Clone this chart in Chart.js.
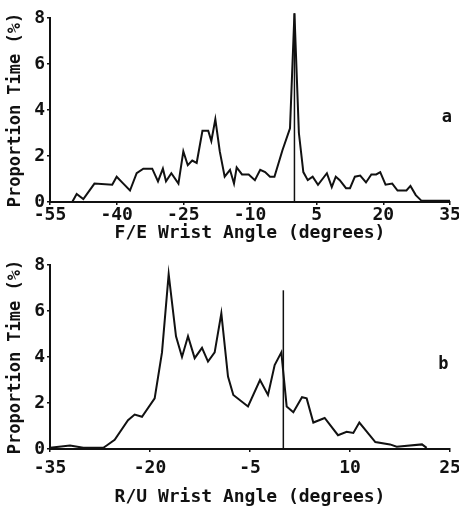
<!DOCTYPE html>
<html>
<head>
<meta charset="utf-8">
<script src="https://cdn.jsdelivr.net/npm/chart.js@4.4.1/dist/chart.umd.min.js"></script>
<style>
  body { margin: 0; background: #fff; }
  .panel { position: relative; width: 459px; height: 255px; }
</style>
</head>
<body>
<div class="panel"><canvas id="chartA"></canvas></div>
<div class="panel"><canvas id="chartB"></canvas></div>
<script>
// panel a: flexion / extension
const feAngles = [-55, -50, -49, -47.5, -45, -41, -40, -38.5, -37, -35.5, -34, -32, -30.7, -29.6, -28.9, -27.7, -26.1, -25, -24, -23, -22, -20.7, -19.4, -18.7, -17.8, -16.8, -15.7, -14.5, -13.6, -13, -11.8, -10.3, -8.9, -7.7, -6.6, -5.5, -4.5, -2.7, -1, 0, 1, 2, 3, 4.1, 5.3, 7.3, 8.4, 9.3, 10.2, 11.6, 12.5, 13.6, 14.8, 16.1, 17.3, 18.4, 19.3, 20.5, 22, 23.2, 25.2, 26.1, 27.3, 28.6, 35];
const feTime = [0, 0, 0.35, 0.13, 0.8, 0.75, 1.1, 0.8, 0.5, 1.25, 1.45, 1.45, 0.9, 1.45, 0.9, 1.25, 0.8, 2.2, 1.6, 1.8, 1.7, 3.1, 3.1, 2.65, 3.6, 2.2, 1.1, 1.4, 0.8, 1.5, 1.2, 1.2, 0.95, 1.4, 1.3, 1.1, 1.1, 2.25, 3.2, 8.2, 3.0, 1.3, 0.95, 1.1, 0.75, 1.25, 0.65, 1.1, 0.95, 0.6, 0.6, 1.1, 1.15, 0.85, 1.2, 1.2, 1.3, 0.75, 0.8, 0.5, 0.5, 0.7, 0.3, 0.05, 0.05];
const feTicks = [-55, -40, -25, -10, 5, 20, 35];
const feMarkerTop = 8.2;

// panel b: radial / ulnar
const ruAngles = [-35, -32, -30, -27, -26.5, -25.3, -23.3, -22.3, -21.2, -19.3, -18.2, -17.2, -16.1, -15.2, -14.3, -13.3, -12.2, -11.3, -10.3, -9.3, -8.3, -7.5, -5.3, -3.5, -2.3, -1.3, -0.3, 0.5, 1.5, 2.8, 3.5, 4.5, 6.2, 8.2, 9.5, 10.5, 11.4, 13.8, 16, 17, 20.8, 21.5];
const ruTime = [0.05, 0.15, 0.05, 0.05, 0.15, 0.4, 1.25, 1.5, 1.4, 2.2, 4.2, 7.6, 4.9, 4.0, 4.9, 3.95, 4.4, 3.8, 4.2, 5.9, 3.15, 2.35, 1.85, 3.0, 2.35, 3.65, 4.2, 1.85, 1.6, 2.25, 2.2, 1.15, 1.35, 0.6, 0.75, 0.7, 1.15, 0.3, 0.2, 0.1, 0.2, 0.05];
const ruTicks = [-35, -20, -5, 10, 25];
const ruMarkerTop = 6.9;

const yTicks = [0, 2, 4, 6, 8];
const FONT = "'DejaVu Sans Mono', monospace";

// letter in the right margin of each panel
const panelLetter = {
  id: 'panelLetter',
  afterDraw(chart, args, opts) {
    const ctx = chart.ctx;
    const x = chart.scales.x.getPixelForValue(opts.x);
    const y = chart.scales.y.getPixelForValue(opts.y);
    ctx.save();
    ctx.font = 'bold 17px ' + FONT;
    ctx.fillStyle = '#111';
    ctx.textAlign = 'center';
    ctx.textBaseline = 'middle';
    ctx.fillText(opts.text, x, y);
    ctx.restore();
  }
};

function makeChart(id, angles, values, ticks, markerTop, xTitle, letter, cfg) {
  const points = angles.map((a, i) => ({ x: a, y: values[i] }));
  new Chart(document.getElementById(id), {
    type: 'line',
    data: {
      datasets: [{
        data: points,
        borderColor: '#111',
        borderWidth: 2,
        pointRadius: 0,
        tension: 0,
        clip: false,
      }, {
        data: [{ x: 0, y: 0 }, { x: 0, y: markerTop }],
        borderColor: '#111',
        borderWidth: 1.5,
        pointRadius: 0,
        clip: false,
      }],
    },
    options: {
      responsive: true,
      maintainAspectRatio: false,
      animation: false,
      layout: { padding: { top: cfg.top, right: 9, left: 0, bottom: 0 } },
      plugins: {
        legend: { display: false },
        tooltip: { enabled: false },
        panelLetter: { text: letter, x: cfg.letterX, y: 3.65 },
      },
      scales: {
        x: {
          type: 'linear',
          min: ticks[0],
          max: ticks[ticks.length - 1],
          afterBuildTicks: (s) => { s.ticks = ticks.map(v => ({ value: v })); },
          afterFit: (s) => { s.height = cfg.xHeight; s.paddingLeft = 0; s.paddingRight = 0; },
          border: { display: true, color: '#111', width: 2 },
          grid: { drawOnChartArea: false, color: '#111', tickLength: 3, lineWidth: 1.5 },
          ticks: { color: '#111', padding: cfg.tickPad, maxRotation: 0, font: { family: FONT, size: 18, weight: 'bold' } },
          title: {
            display: true,
            text: xTitle,
            color: '#111',
            padding: { top: 0, bottom: cfg.titlePad },
            font: { family: FONT, size: 18, weight: 'bold' },
          },
        },
        y: {
          min: 0,
          max: 8,
          afterBuildTicks: (s) => { s.ticks = yTicks.map(v => ({ value: v })); },
          afterFit: (s) => { s.width = 50; s.paddingTop = 0; s.paddingBottom = 0; },
          border: { display: true, color: '#111', width: 2 },
          grid: { drawOnChartArea: false, color: '#111', tickLength: 3, lineWidth: 1.5 },
          ticks: { color: '#111', padding: 2, font: { family: FONT, size: 18, weight: 'bold' } },
          title: {
            display: true,
            text: 'Proportion Time (%)',
            color: '#111',
            padding: { top: 5, bottom: 0 },
            font: { family: FONT, size: 17, weight: 'bold' },
          },
        },
      },
    },
    plugins: [panelLetter],
  });
}

makeChart('chartA', feAngles, feTime, feTicks, feMarkerTop, 'F/E Wrist Angle (degrees)', 'a',
  { top: 18, xHeight: 53, tickPad: 0, titlePad: 11, letterX: 34.3 });
makeChart('chartB', ruAngles, ruTime, ruTicks, ruMarkerTop, 'R/U Wrist Angle (degrees)', 'b',
  { top: 10, xHeight: 61, tickPad: 6, titlePad: 2, letterX: 24 });
</script>
</body>
</html>
